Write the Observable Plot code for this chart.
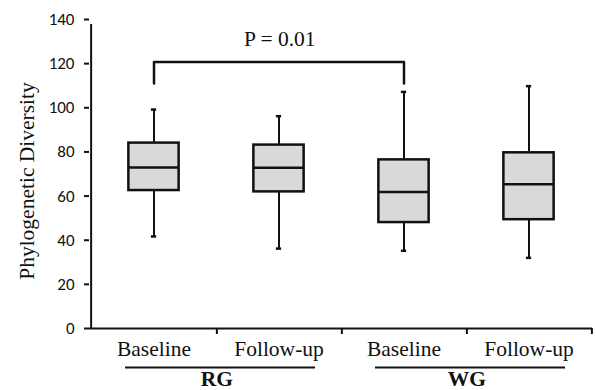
<!DOCTYPE html>
<html><head><meta charset="utf-8">
<script src="https://cdn.jsdelivr.net/npm/d3@7"></script>
<script src="https://cdn.jsdelivr.net/npm/@observablehq/plot@0.6"></script>
<style>
html,body{margin:0;padding:0;background:#fff}
#chart svg{display:block}
</style>
</head><body><div id="chart"></div>
<script>
// ---- data ----
const groups = ["RG", "RG", "WG", "WG"];
const times = ["Baseline", "Follow-up", "Baseline", "Follow-up"];
const whiskerLow = [41.7, 36.2, 35.2, 32.0];
const q1 = [62.5, 61.9, 48.0, 49.3];
const median = [73.0, 72.8, 61.9, 65.4];
const q3 = [84.0, 83.1, 76.4, 79.6];
const whiskerHigh = [99.2, 96.2, 107.2, 109.8];
const yTicks = [0, 20, 40, 60, 80, 100, 120, 140];
const yLabel = "Phylogenetic Diversity";
const groupNames = ["RG", "WG"];
const compareFrom = 0, compareTo = 2;
const compareLabel = "P = 0.01";
const bracketTop = 120.7, bracketLeg = 111, labelY = 131;

// ---- layout / style ----
const W = 596, H = 390, ML = 89, MR = 4, MT = 19, MB = 62;
const serif = "'Times New Roman', 'Liberation Serif', serif";
const sans = "Calibri, Carlito, 'Liberation Sans', Arial, sans-serif";
const ink = "#111";

const keys = groups.map((g, i) => `${g}|${times[i]}`);
const data = keys.map((k, i) => ({key: k, lo: whiskerLow[i], q1: q1[i], med: median[i], q3: q3[i], hi: whiskerHigh[i]}));
const bw = (W - ML - MR) / keys.length;
const boxW = 51, capW = 6;
const boxInset = (bw - boxW) / 2, capInset = (bw - capW) / 2;

const groupData = groupNames.map(g => {
  const ks = keys.filter(k => k.startsWith(g + "|"));
  return {group: g, x1: ks[0], x2: ks[ks.length - 1]};
});
const bracket = [
  {x: keys[compareFrom], y: bracketLeg},
  {x: keys[compareFrom], y: bracketTop},
  {x: keys[compareTo], y: bracketTop},
  {x: keys[compareTo], y: bracketLeg}
];

const chart = Plot.plot({
  width: W, height: H,
  marginLeft: ML, marginRight: MR, marginTop: MT, marginBottom: MB,
  style: {fontFamily: serif, color: ink, background: "#fff", overflow: "visible"},
  x: {domain: keys, padding: 0, label: null},
  y: {domain: [0, 140], label: null},
  marks: [
    // axis lines
    Plot.ruleY([0], {stroke: ink, strokeWidth: 2}),
    Plot.ruleX([{x: keys[0], y1: 0, y2: 140}], {x: "x", y1: "y1", y2: "y2", dx: -bw / 2, insetBottom: -5, stroke: ink, strokeWidth: 2}),
    Plot.axisY({ticks: yTicks, tickSize: 5, tickPadding: 10, strokeWidth: 2, fontSize: 17, fontFamily: sans, label: null}),
    // x labels (no ticks) and boundary ticks
    Plot.axisX({tickSize: 0, tickPadding: 12, tickFormat: k => k.split("|")[1], fontSize: 21.5, label: null}),
    Plot.axisX({tickSize: 6, tickFormat: () => "", dx: bw / 2, strokeWidth: 2, label: null}),
    // whiskers
    Plot.ruleX(data, {x: "key", y1: "lo", y2: "q1", stroke: ink, strokeWidth: 2}),
    Plot.ruleX(data, {x: "key", y1: "q3", y2: "hi", stroke: ink, strokeWidth: 2}),
    Plot.tickY(data, {x: "key", y: "lo", insetLeft: capInset, insetRight: capInset, stroke: ink, strokeWidth: 2.5}),
    Plot.tickY(data, {x: "key", y: "hi", insetLeft: capInset, insetRight: capInset, stroke: ink, strokeWidth: 2.5}),
    // boxes
    Plot.barY(data, {x: "key", y1: "q1", y2: "q3", fill: "#d9d9d9", stroke: ink, strokeWidth: 2.5, insetLeft: boxInset, insetRight: boxInset}),
    Plot.tickY(data, {x: "key", y: "med", insetLeft: boxInset, insetRight: boxInset, stroke: ink, strokeWidth: 2.5}),
    // significance bracket
    Plot.line(bracket, {x: "x", y: "y", stroke: ink, strokeWidth: 2.5}),
    Plot.text([compareLabel], {x: () => keys[compareFrom], y: () => labelY, dx: (compareTo - compareFrom) / 2 * bw, text: d => d, fontSize: 21.5, fill: ink}),
    // group underline + labels
    Plot.ruleY(groupData, {x1: "x1", x2: "x2", y: () => 0, dy: 39, insetLeft: 34, insetRight: 26, stroke: ink, strokeWidth: 2}),
    Plot.text(groupData, {x: "x1", y: () => 0, dx: bw / 2, dy: 51, text: "group", fontSize: 21.5, fontWeight: "bold", fill: ink}),
    // y title
    Plot.text([yLabel], {frameAnchor: "left", text: d => d, rotate: -90, dx: -62, dy: 7, textAnchor: "middle", fontSize: 21.5, fill: ink})
  ]
});
document.getElementById("chart").appendChild(chart);
</script>
</body></html>
